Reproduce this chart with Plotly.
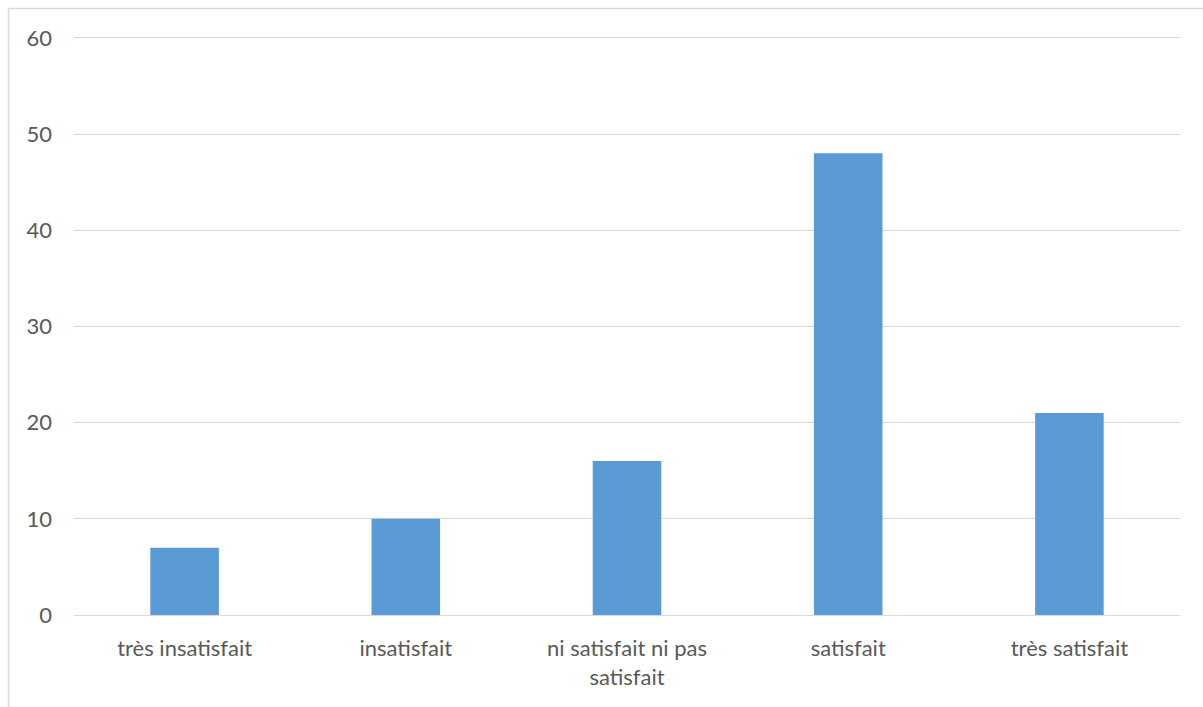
import plotly.graph_objects as go

categories = ["très insatisfait", "insatisfait", "ni satisfait ni pas satisfait", "satisfait", "très satisfait"]
tick_labels = ["très insatisfait", "insatisfait", "ni satisfait ni pas<br>satisfait", "satisfait", "très satisfait"]
values = [7, 10, 16, 48, 21]
y_ticks = [0, 10, 20, 30, 40, 50, 60]

W, H = 1203, 707
L, R, T, B = 74, 23, 35, 92
pw, ph = W - L - R, H - T - B

fig = go.Figure(go.Bar(x=categories, y=values, marker_color="#5B9BD5", marker_line_width=0))

fig.update_layout(
    width=W, height=H,
    margin=dict(l=L, r=R, t=T, b=B, pad=0),
    paper_bgcolor="white", plot_bgcolor="white",
    bargap=0.69,
    showlegend=False,
    font=dict(family="Lato, Carlito, sans-serif", size=22, color="#595959"),
    xaxis=dict(tickmode="array", tickvals=categories, ticktext=tick_labels,
               showgrid=False, showline=False, ticks="", ticklen=0,
               ticklabelstandoff=18,
               tickfont=dict(size=22, color="#595959")),
    yaxis=dict(range=[0, 60.3], tickvals=y_ticks, showgrid=True, gridcolor="#D9D9D9",
               gridwidth=1, zeroline=True, zerolinecolor="#D9D9D9", zerolinewidth=1,
               showline=False, ticks="", ticklabelstandoff=21,
               tickfont=dict(size=22, color="#595959")),
    shapes=[dict(type="rect", xref="paper", yref="paper",
                 x0=(8.5 - L) / pw, x1=(W + 20 - L) / pw,
                 y0=(T + ph - (H + 20)) / ph, y1=(T + ph - 8.5) / ph,
                 line=dict(color="#D9D9D9", width=1.5), fillcolor="rgba(0,0,0,0)", layer="below")],
)

fig.write_html("out.html")
